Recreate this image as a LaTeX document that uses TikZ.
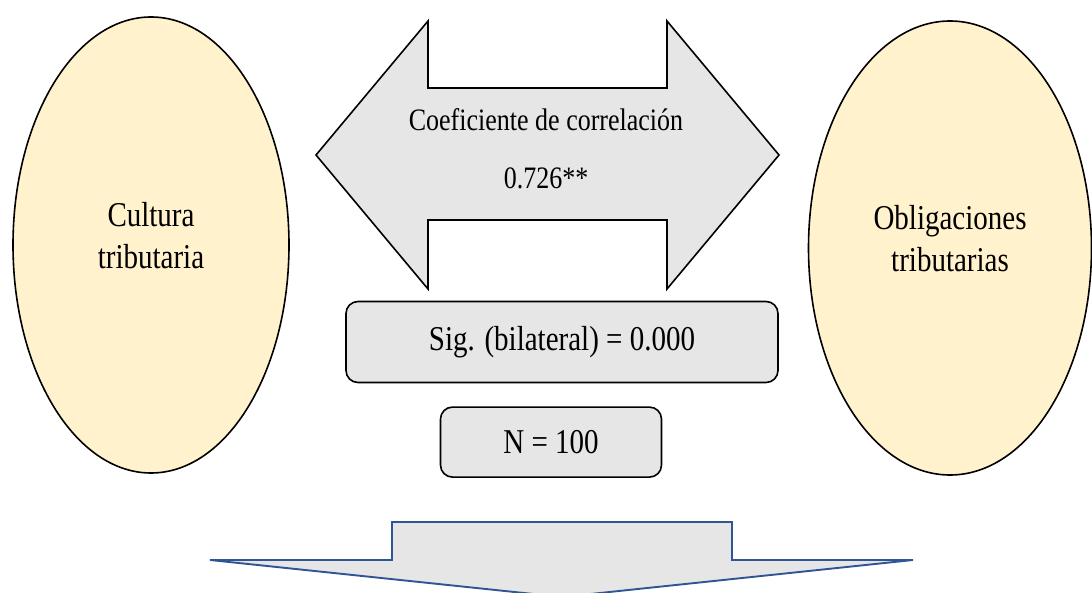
\documentclass[tikz,border=0pt]{standalone}
\usepackage{fontspec}
\setmainfont{Liberation Serif}
\usepackage[HTML]{xcolor}
\usepackage{tikz}
\usetikzlibrary{positioning, shapes.geometric}

\definecolor{varfill}{HTML}{FFF2CC}
\definecolor{boxfill}{HTML}{E7E6E6}
\definecolor{arrowblue}{HTML}{2F5597}
\newcommand{\tallbox}[1]{\scalebox{1}[1.2]{#1}}
\newcommand{\twolines}[2]{\raisebox{5pt}[\height][\depth]{\begin{tabular}{@{}c@{}}#1\\#2\end{tabular}}}

\begin{document}
\begin{tikzpicture}[x=1pt,y=-1pt,
  varnode/.style={ellipse, draw, line width=1.6pt, fill=varfill, inner sep=0pt,
    font=\fontsize{29}{35}\selectfont},
  resbox/.style={rectangle, rounded corners=12pt, draw, line width=1.6pt, fill=boxfill,
    inner sep=0pt, font=\fontsize{29}{35}\selectfont},
  arrowtext/.style={font=\fontsize{26}{31}\selectfont, inner sep=0pt},
  biarrow/.style={draw, line width=1.6pt, fill=boxfill, line join=miter},
  downarrow/.style={draw=arrowblue, line width=1.9pt, fill=boxfill, line join=miter}]
\useasboundingbox (0,0) rectangle (1092,593);
% variables
\node[varnode, minimum width=276pt, minimum height=456pt] (cultura) at (151,245)
  {\tallbox{\twolines{Cultura}{tributaria}}};
\node[varnode, minimum width=283pt, minimum height=454pt] (obligaciones) at (950,248)
  {\tallbox{\twolines{Obligaciones}{tributarias}}};
% correlation arrow
\draw[biarrow] (316,155) -- (428,21) -- (428,88) -- (667,88) -- (667,21) -- (779,155)
  -- (667,289) -- (667,220) -- (428,220) -- (428,289) -- cycle;
\node[arrowtext] (coef) at (546,120) {\tallbox{Coeficiente de correlación}};
\node[arrowtext] (rvalue) at (546,178) {\tallbox{0.726**}};
% results
\node[resbox, minimum width=432pt, minimum height=81pt] (sig) at (562,342)
  {\tallbox{Sig. (bilateral) = 0.000}};
\node[resbox, minimum width=221pt, minimum height=70pt, below=23pt of sig, xshift=-11pt] (n)
  {\tallbox{N = 100}};
% conclusion arrow
\draw[downarrow] (210,560) -- (392,560) -- (392,522) -- (732,522) -- (732,560)
  -- (913,560) -- (562,597) -- cycle;
\end{tikzpicture}
\end{document}
